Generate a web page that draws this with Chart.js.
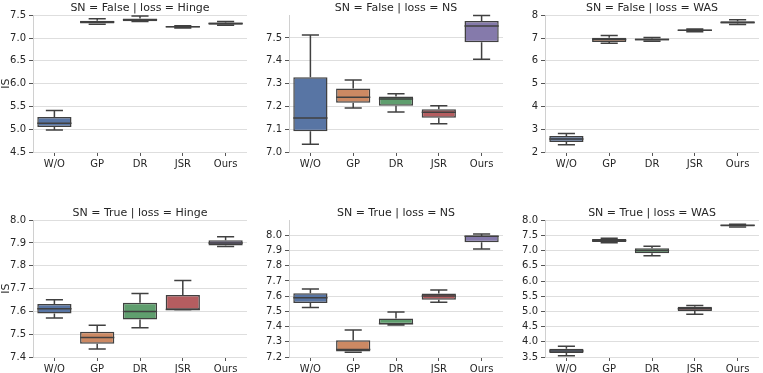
<!DOCTYPE html>
<html>
<head>
<meta charset="utf-8">
<script src="https://cdn.jsdelivr.net/npm/chart.js@4"></script>
<style>
  body { margin: 0; background: #fff; }
  #wrap { position: relative; width: 763px; height: 373px; }
  .panel { position: absolute; width: 250px; height: 185px; }
</style>
</head>
<body>
<div id="wrap">
  <div class="panel" style="left:0px;top:0px"><canvas id="c0" width="250" height="185"></canvas></div>
  <div class="panel" style="left:256px;top:0px"><canvas id="c1" width="250" height="185"></canvas></div>
  <div class="panel" style="left:512px;top:0px"><canvas id="c2" width="250" height="185"></canvas></div>
  <div class="panel" style="left:0px;top:205px"><canvas id="c3" width="250" height="185"></canvas></div>
  <div class="panel" style="left:256px;top:205px"><canvas id="c4" width="250" height="185"></canvas></div>
  <div class="panel" style="left:512px;top:205px"><canvas id="c5" width="250" height="185"></canvas></div>
</div>
<script>
// categories on every facet
var methods = ['W/O', 'GP', 'DR', 'JSR', 'Ours']

// each entry: [whisker low, q1, median, q3, whisker high]
var falseHinge = [
    [4.98, 5.05, 5.13, 5.27, 5.41],
    [7.30, 7.32, 7.35, 7.38, 7.42],
    [7.36, 7.37, 7.40, 7.43, 7.48],
    [7.22, 7.23, 7.245, 7.26, 7.27],
    [7.28, 7.29, 7.32, 7.34, 7.36]
]
var falseNS = [
    [7.034, 7.091, 7.149, 7.328, 7.513],
    [7.193, 7.216, 7.240, 7.278, 7.316],
    [7.175, 7.203, 7.232, 7.243, 7.256],
    [7.124, 7.150, 7.174, 7.188, 7.203],
    [7.407, 7.481, 7.553, 7.575, 7.599]
]
var falseWAS = [
    [2.32, 2.44, 2.57, 2.70, 2.81],
    [6.77, 6.83, 6.93, 7.01, 7.11],
    [6.86, 6.89, 6.93, 6.98, 7.02],
    [7.27, 7.31, 7.34, 7.37, 7.40],
    [7.59, 7.64, 7.68, 7.74, 7.80]
]
var trueHinge = [
    [7.571, 7.591, 7.612, 7.632, 7.651],
    [7.435, 7.458, 7.485, 7.511, 7.539],
    [7.528, 7.565, 7.600, 7.638, 7.679],
    [7.607, 7.607, 7.608, 7.672, 7.736],
    [7.885, 7.889, 7.900, 7.912, 7.927]
]
var trueNS = [
    [7.525, 7.555, 7.590, 7.619, 7.647],
    [7.232, 7.237, 7.250, 7.310, 7.378],
    [7.410, 7.415, 7.418, 7.454, 7.496],
    [7.560, 7.577, 7.601, 7.617, 7.641],
    [7.911, 7.955, 7.995, 8.000, 8.009]
]
var trueWAS = [
    [3.54, 3.63, 3.70, 3.77, 3.85],
    [7.26, 7.28, 7.33, 7.38, 7.41],
    [6.83, 6.91, 7.00, 7.08, 7.14],
    [4.91, 5.01, 5.09, 5.15, 5.19],
    [7.78, 7.79, 7.83, 7.85, 7.87]
]

var titles = [
    'SN = False | loss = Hinge', 'SN = False | loss = NS', 'SN = False | loss = WAS',
    'SN = True | loss = Hinge', 'SN = True | loss = NS', 'SN = True | loss = WAS'
]
var yRanges = [[4.5, 7.5], [7.0, 7.6], [2, 8], [7.4, 8.0], [7.2, 8.1], [3.5, 8.0]]
var yTickLabels = [
    ['4.5', '5.0', '5.5', '6.0', '6.5', '7.0', '7.5'],
    ['7.0', '7.1', '7.2', '7.3', '7.4', '7.5'],
    ['2', '3', '4', '5', '6', '7', '8'],
    ['7.4', '7.5', '7.6', '7.7', '7.8', '7.9', '8.0'],
    ['7.2', '7.3', '7.4', '7.5', '7.6', '7.7', '7.8', '7.9', '8.0'],
    ['3.5', '4.0', '4.5', '5.0', '5.5', '6.0', '6.5', '7.0', '7.5', '8.0']
]

var panels = [falseHinge, falseNS, falseWAS, trueHinge, trueNS, trueWAS]
var colors = ['#5875a4', '#cc8963', '#5f9e6e', '#b55d60', '#857aab']
var lineColor = '#404040'
var textColor = '#262626'
var fontFamily = "'DejaVu Sans', sans-serif"

// whiskers, caps and medians, placed with the chart's own scales
var whiskerPlugin = {
    id: 'whiskers',
    afterDatasetsDraw: function(chart, args, opts) {
        var ctx = chart.ctx
        var y = chart.scales.y
        var bars = chart.getDatasetMeta(0).data
        ctx.save()
        ctx.strokeStyle = lineColor
        ctx.lineWidth = 1.5
        opts.stats.forEach(function(s, i) {
            var bar = bars[i]
            var x = bar.x
            var half = bar.width / 2
            var cap = half / 2
            ctx.beginPath()
            ctx.moveTo(x, y.getPixelForValue(s[3]))
            ctx.lineTo(x, y.getPixelForValue(s[4]))
            ctx.moveTo(x, y.getPixelForValue(s[1]))
            ctx.lineTo(x, y.getPixelForValue(s[0]))
            ctx.moveTo(x - cap, y.getPixelForValue(s[4]))
            ctx.lineTo(x + cap, y.getPixelForValue(s[4]))
            ctx.moveTo(x - cap, y.getPixelForValue(s[0]))
            ctx.lineTo(x + cap, y.getPixelForValue(s[0]))
            ctx.moveTo(x - half, y.getPixelForValue(s[2]))
            ctx.lineTo(x + half, y.getPixelForValue(s[2]))
            ctx.stroke()
        })
        ctx.restore()
    }
}

function makePanel(i) {
    var stats = panels[i]
    var labels = yTickLabels[i]
    var ctx = document.getElementById('c' + i).getContext('2d')
    new Chart(ctx, {
        type: 'bar',
        data: {
            labels: methods,
            datasets: [{
                data: stats.map(function(s) { return [s[1], s[3]] }),
                backgroundColor: colors,
                borderColor: lineColor,
                borderWidth: 1.5,
                borderSkipped: false,
                barPercentage: 0.8,
                categoryPercentage: 1.0
            }]
        },
        options: {
            responsive: false,
            animation: false,
            layout: { padding: { left: 0, right: 3, top: 0, bottom: 0 } },
            plugins: {
                legend: { display: false },
                tooltip: { enabled: false },
                title: {
                    display: true,
                    text: titles[i],
                    fullSize: false,
                    color: textColor,
                    font: { family: fontFamily, size: 11, weight: 'normal' },
                    padding: { top: 2, bottom: 0 }
                },
                whiskers: { stats: stats }
            },
            scales: {
                x: {
                    offset: true,
                    grid: { offset: false, drawOnChartArea: false, drawTicks: true, tickLength: 4, tickColor: '#555' },
                    border: { display: false },
                    ticks: { color: textColor, font: { family: fontFamily, size: 10 }, padding: 2, maxRotation: 0 },
                    afterFit: function(s) { s.height = 33 }
                },
                y: {
                    min: yRanges[i][0],
                    max: yRanges[i][1],
                    grid: { color: '#dedede', lineWidth: 1, tickColor: '#555', tickLength: 4 },
                    border: { color: '#d0d0d0' },
                    ticks: {
                        color: textColor,
                        font: { family: fontFamily, size: 10 },
                        padding: 3,
                        callback: function(v, idx) { return labels[idx] }
                    },
                    afterBuildTicks: function(axis) {
                        axis.ticks = labels.map(function(l) { return { value: parseFloat(l) } })
                    },
                    afterFit: function(s) { s.width = 33 },
                    title: {
                        display: i % 3 === 0,
                        text: 'IS',
                        color: textColor,
                        font: { family: fontFamily, size: 11 },
                        padding: 0
                    }
                }
            }
        },
        plugins: [whiskerPlugin]
    })
}

for (var i = 0; i < 6; i++) makePanel(i)
</script>
</body>
</html>
